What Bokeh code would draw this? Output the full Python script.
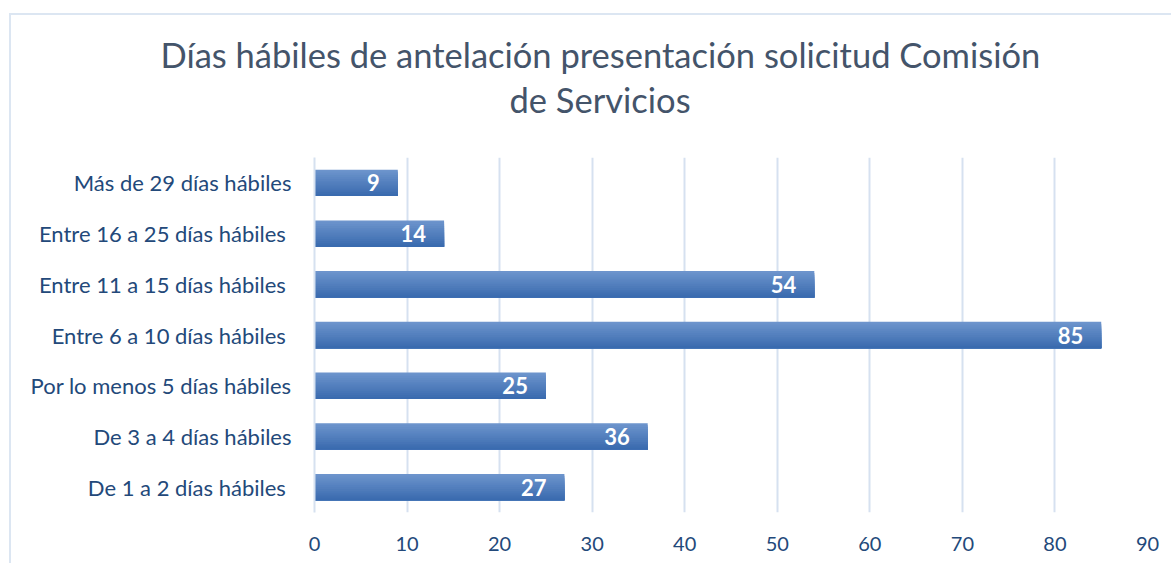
from bokeh.plotting import figure
from bokeh.models import FactorRange, Range1d, FixedTicker, Title, ColumnDataSource
from bokeh.transform import dodge
from bokeh.core.properties import value
from bokeh.embed import file_html
from bokeh.resources import INLINE

title_lines = ["Días hábiles de antelación presentación solicitud Comisión", "de Servicios"]
categories = [
    "De 1 a 2 días hábiles ",
    "De 3 a 4 días hábiles",
    "Por lo menos 5 días hábiles",
    "Entre 6 a 10 días hábiles ",
    "Entre 11 a 15 días hábiles ",
    "Entre 16 a 25 días hábiles ",
    "Más de 29 días hábiles",
]
values = [27, 36, 25, 85, 54, 14, 9]
x_ticks = [0, 10, 20, 30, 40, 50, 60, 70, 80, 90]

LABEL = "#23497a"
TITLE = "#44546a"
GRID = "#d6e1f0"
FONT = "Lato"

p = figure(
    width=1162, height=550, output_backend="svg", toolbar_location=None,
    y_range=FactorRange(factors=categories, range_padding=0),
    x_range=Range1d(0, 90),
    min_border_left=303, min_border_right=26, min_border_top=142, min_border_bottom=53,
)
p.margin = (13, 0, 0, 9)
p.styles = {"border-left": "2px solid #dce6f2", "border-top": "2px solid #dce6f2"}
p.outline_line_color = None
p.background_fill_color = "white"
p.border_fill_color = "white"

src = ColumnDataSource(dict(cat=categories, val=values, lbl=[str(v) for v in values]))

# gradient bars: nested bars, each one shorter from the top, drawn top colour first
top = (0x6d, 0x94, 0xcc)
bot = (0x3a, 0x6b, 0xaf)
N = 14
bar_h = 0.52
strip = bar_h / N
for i in range(N):
    t = i / (N - 1)
    c = tuple(int(round(top[k] + (bot[k] - top[k]) * t)) for k in range(3))
    col = "#%02x%02x%02x" % c
    p.hbar(y=dodge("cat", -i * strip / 2, range=p.y_range), right="val", left=0,
           height=bar_h - i * strip, source=src, fill_color=col, line_color=None)

p.text(x="val", y="cat", text="lbl", source=src, x_offset=-18,
       text_align="right", text_baseline="middle", text_color="white",
       text_font=value(FONT), text_font_style="bold", text_font_size="22px")

p.xaxis.ticker = FixedTicker(ticks=x_ticks)
p.xgrid.ticker = FixedTicker(ticks=x_ticks)
p.xgrid.grid_line_color = GRID
p.xgrid.grid_line_width = 2
p.ygrid.grid_line_color = None

p.xaxis.axis_line_color = None
p.xaxis.major_tick_line_color = None
p.xaxis.minor_tick_line_color = None
p.xaxis.major_label_text_color = LABEL
p.xaxis.major_label_text_font = FONT
p.xaxis.major_label_text_font_size = "20px"
p.xaxis.major_label_standoff = 18

p.yaxis.axis_line_color = GRID
p.yaxis.axis_line_width = 2
p.yaxis.major_tick_line_color = None
p.yaxis.minor_tick_line_color = None
p.yaxis.major_label_text_color = LABEL
p.yaxis.major_label_text_font = FONT
p.yaxis.major_label_text_font_size = "22px"
p.yaxis.major_label_standoff = 17

# titles: first added is nearest the frame; a blank title acts as a spacer
p.add_layout(Title(text=" ", text_font_size="1px", standoff=33), "above")
p.add_layout(Title(text=title_lines[1], align="left", offset=195,
                   text_font=FONT, text_font_style="normal", text_font_size="34.5px",
                   text_color=TITLE, standoff=4), "above")
p.add_layout(Title(text=title_lines[0], align="left", offset=-154,
                   text_font=FONT, text_font_style="normal", text_font_size="34.5px",
                   text_color=TITLE, standoff=0), "above")

open("out.html", "w").write(file_html(p, INLINE))
